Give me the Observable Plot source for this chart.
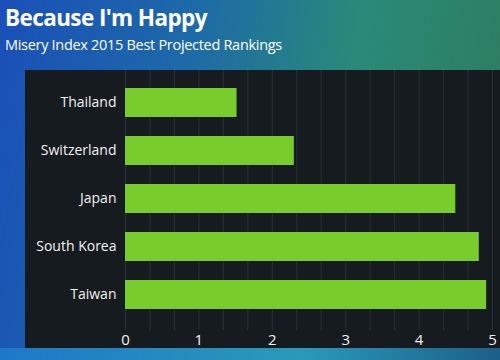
<!DOCTYPE html>
<html><head><meta charset="utf-8">
<script src="https://cdn.jsdelivr.net/npm/d3@7"></script>
<script src="https://cdn.jsdelivr.net/npm/@observablehq/plot@0.6"></script>
<style>
html,body{margin:0;padding:0;}
#wrap{position:relative;width:500px;height:360px;overflow:hidden;
 background:linear-gradient(100deg,#1a4fb8 0%,#1d6aa8 35%,#2a8a78 65%,#2f7a5a 100%);
 font-family:"Open Sans",sans-serif;color:#fff;}
#panel{position:absolute;left:25px;top:70px;width:480px;height:278px;background:#161b20;}
#strip{position:absolute;left:0;top:348px;width:500px;height:12px;background:linear-gradient(90deg,#1e78c8,#2a9ab8 60%,#1c5f8a);}
#title{position:absolute;left:5px;top:3px;font-weight:700;font-size:22.5px;letter-spacing:-0.6px;line-height:30px;}
#sub{position:absolute;left:5px;top:35px;font-size:14.5px;line-height:20px;letter-spacing:-0.3px;}
#chart{position:absolute;left:0;top:62px;}
</style></head>
<body><div id="wrap"><div id="panel"></div><div id="strip"></div>
<div id="title">Because I'm Happy</div>
<div id="sub">Misery Index 2015 Best Projected Rankings</div>
<div id="chart"></div></div>
<script>
const countries = ["Thailand","Switzerland","Japan","South Korea","Taiwan"];
const values = [1.52, 2.3, 4.5, 4.82, 4.92];
const xTicks = [0,1,2,3,4,5];
const data = countries.map((c,i)=>({country:c, value:values[i]}));
const chart = Plot.plot({
  width: 500, height: 298,
  marginLeft: 125, marginRight: 8, marginTop: 5, marginBottom: 30,
  style: {background:"transparent", color:"#fff", fontFamily:"'Open Sans',sans-serif", fontSize:"13px"},
  x: {domain:[0,5], ticks:xTicks, label:null},
  y: {domain:countries, padding:0.4, label:null},
  marks: [
    Plot.gridX(d3.range(0, 5.01, 1/3), {stroke:"#6a8a9a", strokeOpacity:0.2}),
    Plot.barX(data, {y:"country", x:"value", x1:0, fill:"#78cc2c"}),
    Plot.axisY({tickSize:0, tickPadding:9, fontSize:14, fill:"#f2f2f2"}),
    Plot.axisX({ticks:xTicks, tickFormat:"d", tickSize:0, tickPadding:4, fontSize:15, fill:"#f2f2f2"})
  ]
});
document.getElementById("chart").appendChild(chart);
</script></body></html>
